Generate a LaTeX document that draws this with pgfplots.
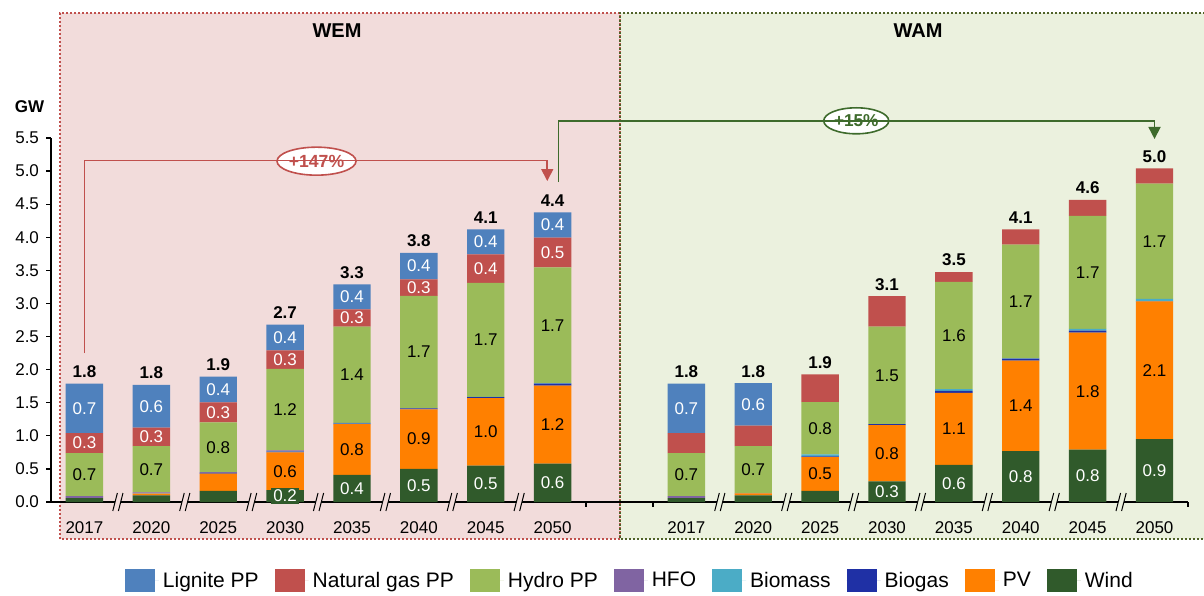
\documentclass[border=0pt]{standalone}
\usepackage{fontspec}
\setmainfont{Liberation Sans}
\usepackage{pgfplots}
\usepackage{pgfplotstable}
\pgfplotsset{compat=1.18}
\usetikzlibrary{arrows.meta,shapes.geometric}

\definecolor{cLig}{HTML}{4F81BD}
\definecolor{cGas}{HTML}{C0504D}
\definecolor{cHyd}{HTML}{9BBB59}
\definecolor{cHFO}{HTML}{8064A2}
\definecolor{cBiom}{HTML}{4BACC6}
\definecolor{cBiog}{HTML}{1F30A5}
\definecolor{cPV}{HTML}{FF8000}
\definecolor{cWind}{HTML}{305A2B}
\definecolor{bgPink}{HTML}{F2DCDB}
\definecolor{bgGreen}{HTML}{EBF1DE}
\definecolor{bdRed}{HTML}{C0504D}
\definecolor{bdGreen}{HTML}{4F6228}
\definecolor{arGreen}{HTML}{3E6B2C}

\pgfplotstableread{
x wind pv biog biom hfo hydro gas lig tot lwind lpv lhydro lgas llig ltot
0 0.06 0 0 0 0.03 0.65 0.30 0.75 1.79 {} {} 0.7 0.3 0.7 1.8
1 0.10 0.025 0 0.005 0.015 0.70 0.28 0.645 1.77 {} {} 0.7 0.3 0.6 1.8
2 0.17 0.26 0.005 0.005 0.01 0.755 0.30 0.39 1.895 {} {} 0.8 0.3 0.4 1.9
3 0.18 0.57 0.01 0.005 0.015 1.23 0.28 0.39 2.68 0.2 0.6 1.2 0.3 0.4 2.7
4 0.41 0.765 0.01 0.005 0.005 1.455 0.26 0.38 3.29 0.4 0.8 1.4 0.3 0.4 3.3
5 0.50 0.90 0.015 0 0 1.70 0.25 0.40 3.765 0.5 0.9 1.7 0.3 0.4 3.8
6 0.55 1.02 0.015 0.005 0 1.72 0.43 0.38 4.12 0.5 1.0 1.7 0.4 0.4 4.1
7 0.58 1.18 0.03 0.005 0 1.75 0.45 0.38 4.375 0.6 1.2 1.7 0.5 0.4 4.4
9 0.06 0 0 0 0.03 0.65 0.30 0.75 1.79 {} {} 0.7 {} 0.7 1.8
10 0.10 0.03 0 0 0.005 0.71 0.31 0.64 1.795 {} {} 0.7 {} 0.6 1.8
11 0.17 0.51 0.01 0.03 0 0.79 0.42 0 1.93 {} 0.5 0.8 {} {} 1.9
12 0.31 0.85 0.015 0 0 1.475 0.46 0 3.11 0.3 0.8 1.5 {} {} 3.1
13 0.56 1.09 0.03 0.025 0 1.62 0.15 0 3.475 0.6 1.1 1.6 {} {} 3.5
14 0.77 1.365 0.03 0.005 0 1.72 0.23 0 4.12 0.8 1.4 1.7 {} {} 4.1
15 0.79 1.77 0.03 0.025 0 1.71 0.24 0 4.565 0.8 1.8 1.7 {} {} 4.6
16 0.95 2.08 0.005 0.035 0 1.74 0.23 0 5.04 0.9 2.1 1.7 {} {} 5.0
}\data

\pgfplotsset{
  seglab/.style={nodes near coords={\pgfplotspointmeta}, point meta=explicit symbolic,
    nodes near coords align={center},
    every node near coord/.style={anchor=center, font=\fontsize{8.5}{10}\selectfont,
      text=#1, inner sep=1pt}},
}

\newcommand\brk[2]{%
  \fill[#2] ([shift={(-2.55pt,-4.5pt)}]#1) -- ([shift={(-0.25pt,4.5pt)}]#1) -- ([shift={(2.55pt,4.5pt)}]#1) -- ([shift={(0.25pt,-4.5pt)}]#1) -- cycle;
  \draw[line width=0.5pt] ([shift={(-2.55pt,-4.5pt)}]#1) -- ([shift={(-0.25pt,4.5pt)}]#1);
  \draw[line width=0.5pt] ([shift={(0.25pt,-4.5pt)}]#1) -- ([shift={(2.55pt,4.5pt)}]#1);
}

\begin{document}
\begin{tikzpicture}
% panel backgrounds
\fill[bgPink] (4.5pt,-18.5pt) rectangle (284.5pt,244.5pt);
\fill[bgGreen] (284.5pt,-18.5pt) rectangle (580pt,244.5pt);
\draw[bdRed, line width=1pt, dash pattern=on 1pt off 1pt] (4.5pt,-18.5pt) rectangle (284.5pt,244.5pt);
\draw[bdGreen, line width=1pt, dash pattern=on 1pt off 1pt, dash phase=1pt] (580pt,244.5pt) -- (284.5pt,244.5pt) -- (284.5pt,-18.5pt) -- (580pt,-18.5pt);

\begin{axis}[
  at={(0pt,0pt)}, anchor=south west,
  x=33.44pt, y=33.09pt,
  xmin=-0.5, xmax=16.5, ymin=0, ymax=5.5,
  ybar stacked, bar width=18.7pt,
  axis lines*=left,
  axis line style={black, line width=0.6pt},
  clip=false,
  /pgf/number format/assume math mode=true,
  ytick={0,0.5,...,5.5},
  yticklabel style={font=\fontsize{8.5}{10}\selectfont, /pgf/number format/.cd, fixed, fixed zerofill, precision=1},
  ytick style={black, line width=0.6pt},
  tick align=outside, major tick length=2.5pt,
  xtick={0,1,2,3,4,5,6,7,9,10,11,12,13,14,15,16},
  xticklabels={2017,2020,2025,2030,2035,2040,2045,2050,2017,2020,2025,2030,2035,2040,2045,2050},
  xtick style={draw=none},
  xticklabel style={font=\fontsize{8.5}{10}\selectfont, anchor=base, yshift=-13pt},
  legend columns=8,
  reverse legend,
  legend image code/.code={\fill[#1] (0pt,-5.75pt) rectangle (15pt,5.75pt); \path (0pt,0pt) -- (17pt,0pt);},
  legend style={draw=none, fill=none, at={(0.51,-0.217)}, anchor=center,
    font=\fontsize{10.5}{12}\selectfont,
    /tikz/every even column/.append style={column sep=6pt}},
]
\addplot[fill=cWind, draw=none, seglab=white, every node near coord/.append style={fill=cWind}]
  table[x=x,y=wind,meta=lwind]{\data};
\addlegendentry{Wind}
\addplot[fill=cPV, draw=none, seglab=black] table[x=x,y=pv,meta=lpv]{\data};
\addlegendentry{PV}
\addplot[fill=cBiog, draw=none] table[x=x,y=biog]{\data};
\addlegendentry{Biogas}
\addplot[fill=cBiom, draw=none] table[x=x,y=biom]{\data};
\addlegendentry{Biomass}
\addplot[fill=cHFO, draw=none] table[x=x,y=hfo]{\data};
\addlegendentry{HFO}
\addplot[fill=cHyd, draw=none, seglab=black] table[x=x,y=hydro,meta=lhydro]{\data};
\addlegendentry{Hydro PP}
\addplot[fill=cGas, draw=none, seglab=white] table[x=x,y=gas,meta=lgas]{\data};
\addlegendentry{Natural gas PP}
\addplot[fill=cLig, draw=none, seglab=white] table[x=x,y=lig,meta=llig]{\data};
\addlegendentry{Lignite PP}
\addplot[forget plot, stack plots=false, draw=none, fill=none,
  visualization depends on={\thisrow{tot}\as\rawt},
  nodes near coords={\pgfplotspointmeta}, point meta=explicit symbolic,
  nodes near coords align={center},
  every node near coord/.style={anchor=center, yshift=0.5*\rawt*33.09pt+6pt,
    font=\bfseries\fontsize{8.5}{10}\selectfont, text=black, inner sep=1pt}]
  table[x=x,y=tot,meta=ltot]{\data};

% growth arrows
\draw[cGas, line width=0.8pt, -{Triangle[width=6pt,length=6pt]}] (axis cs:0,2.25) -- (axis cs:0,5.16) -- (axis cs:6.92,5.16) -- (axis cs:6.92,4.85);
\node[ellipse, draw=cGas, line width=0.8pt, fill=white, minimum width=39.5pt, minimum height=14pt, inner sep=0pt,
  text=cGas, font=\bfseries\fontsize{8.8}{10}\selectfont] at (axis cs:3.47,5.15) {+147\%};
\draw[arGreen, line width=0.8pt, -{Triangle[width=6pt,length=6pt]}] (axis cs:7.09,4.835) -- (axis cs:7.09,5.76) -- (axis cs:16.0,5.76) -- (axis cs:16.0,5.485);
\node[ellipse, draw=arGreen, line width=0.8pt, fill=white, minimum width=32.5pt, minimum height=13pt, inner sep=0pt,
  text=arGreen, font=\bfseries\fontsize{8.6}{10}\selectfont] at (axis cs:11.54,5.76) {+15\%};

\pgfplotsinvokeforeach{1,...,7,10,11,12,13,14,15,16}{\coordinate (bk#1) at (axis cs:#1-0.5,0);}
\coordinate (tkA) at (axis cs:7.5,0);
\coordinate (tkB) at (axis cs:8.5,0);
\coordinate (tkC) at (axis cs:16.5,0);
\end{axis}

\foreach \i in {1,...,7}{\brk{bk\i}{bgPink}}
\foreach \i in {10,...,16}{\brk{bk\i}{bgGreen}}
\foreach \c in {tkA,tkB,tkC}{\draw[line width=0.6pt] (\c) -- ++(0,-2.5pt);}

\node[font=\bfseries\fontsize{8.5}{10}\selectfont] at (-10.75pt,197.5pt) {GW};
\node[font=\bfseries\fontsize{10}{12}\selectfont] at (143pt,235.5pt) {WEM};
\node[font=\bfseries\fontsize{10}{12}\selectfont] at (433.5pt,235.5pt) {WAM};

\pgfresetboundingbox
\path[use as bounding box] (-25.5pt,-46.5pt) rectangle (576.5pt,251pt);
\end{tikzpicture}
\end{document}
